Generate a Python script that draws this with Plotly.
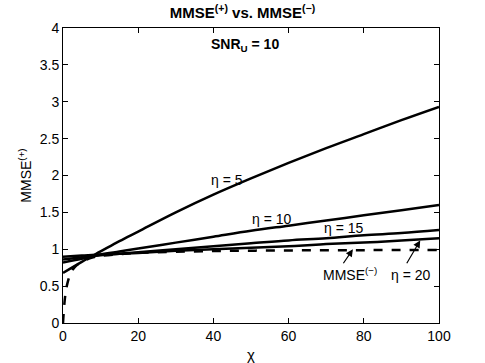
import plotly.graph_objects as go

# curve readings
chi = [0, 5, 10, 15, 20, 30, 40, 50, 60, 70, 80, 90, 100]
mmse_eta5 = [0.68, 0.83, 0.97, 1.11, 1.24, 1.50, 1.74, 1.96, 2.17, 2.37, 2.56, 2.75, 2.93]
mmse_eta10 = [0.82, 0.87, 0.93, 0.97, 1.01, 1.09, 1.17, 1.25, 1.32, 1.39, 1.46, 1.53, 1.60]
mmse_eta15 = [0.86, 0.89, 0.92, 0.94, 0.96, 1.00, 1.04, 1.08, 1.12, 1.15, 1.19, 1.22, 1.26]
mmse_eta20 = [0.90, 0.915, 0.93, 0.94, 0.95, 0.98, 1.00, 1.02, 1.04, 1.07, 1.09, 1.12, 1.15]

chi_minus = [0, 0.5, 1, 2, 3, 5, 8, 10, 20, 40, 60, 80, 100]
mmse_minus = [0, 0.33, 0.5, 0.67, 0.75, 0.83, 0.89, 0.91, 0.95, 0.975, 0.984, 0.988, 0.99]

x_ticks = [0, 20, 40, 60, 80, 100]
y_ticks = [0, 0.5, 1, 1.5, 2, 2.5, 3, 3.5, 4]
y_tick_text = ['0', '0.5', '1', '1.5', '2', '2.5', '3', '3.5', '4']

font_family = 'Liberation Sans, Arial, sans-serif'

fig = go.Figure()
for ys in [mmse_eta5, mmse_eta10, mmse_eta15, mmse_eta20]:
    fig.add_trace(go.Scatter(x=chi, y=ys, mode='lines', line_shape='spline',
                             line=dict(color='black', width=2.5), showlegend=False))
fig.add_trace(go.Scatter(x=chi_minus, y=mmse_minus, mode='lines', line_shape='spline',
                         line=dict(color='black', width=2.5, dash='dash'), showlegend=False))

# text labels on the curves
labels = [
    ('η = 5', 43.6, 1.94),
    ('η = 10', 55.6, 1.41),
    ('η = 15', 74.7, 1.29),
    ('MMSE<sup>(−)</sup>', 76.3, 0.66),
    ('η = 20', 92.5, 0.65),
]
for txt, lx, ly in labels:
    fig.add_annotation(x=lx, y=ly, text=txt, showarrow=False,
                       font=dict(size=14, color='black', family=font_family))

# arrows: head (x, y), tail (ax, ay)
arrows = [(77.1, 1.0, 74.3, 0.79), (95.0, 1.12, 91.2, 0.79)]
for hx, hy, tx, ty in arrows:
    fig.add_annotation(x=hx, y=hy, ax=tx, ay=ty, axref='x', ayref='y', text='',
                       showarrow=True, arrowhead=2, arrowsize=1.2, arrowwidth=1.2,
                       arrowcolor='black')

fig.add_annotation(x=48.4, y=3.77, text='<b>SNR<sub>U</sub> = 10</b>', showarrow=False,
                   font=dict(size=14, color='black', family=font_family))

axis_common = dict(showline=True, linecolor='black', linewidth=1, mirror='allticks',
                   ticks='inside', ticklen=5, tickcolor='black', showgrid=False,
                   zeroline=False, automargin=False,
                   tickfont=dict(size=14, color='black', family=font_family))

fig.update_layout(
    width=485, height=363,
    margin=dict(l=63, r=46, t=28, b=40),
    paper_bgcolor='white', plot_bgcolor='white',
    font=dict(family=font_family, color='black', size=14),
    title=dict(text='<b>MMSE<sup>(+)</sup> vs. MMSE<sup>(−)</sup></b>', x=0.5, xanchor='center',
               y=1 - 13 / 363, yanchor='middle', yref='container', automargin=False,
               font=dict(size=15, family=font_family, color='black')),
    xaxis=dict(range=[0, 100], tickvals=x_ticks,
               title=dict(text='χ', standoff=7, font=dict(size=15, color='black')), **axis_common),
    yaxis=dict(range=[0, 4], tickvals=y_ticks, ticktext=y_tick_text,
               title=dict(text='MMSE<sup>(+)</sup>', standoff=4,
                          font=dict(size=14, color='black')), **axis_common),
)

# drop the default 8px body margin so the figure fills the window exactly
fig.write_html("out.html", config={'displayModeBar': False},
               post_script="document.body.style.margin='0';")
